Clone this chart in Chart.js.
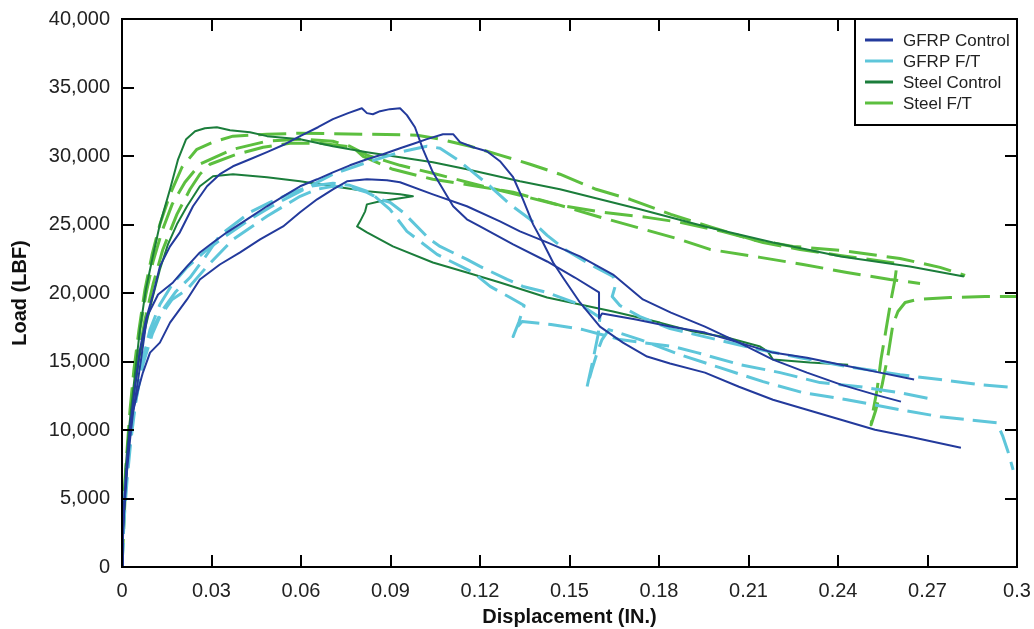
<!DOCTYPE html>
<html>
<head>
<meta charset="utf-8">
<title>Load vs Displacement</title>
<script src="https://cdn.jsdelivr.net/npm/chart.js@4.4.1/dist/chart.umd.min.js"></script>
<style>
  html, body { margin: 0; padding: 0; background: #fff; }
  canvas { display: block; }
</style>
</head>
<body>
<canvas id="loadChart" width="1034" height="629"></canvas>
<script>
// Legend entries (one per test group)
const seriesNames = ['GFRP Control', 'GFRP F/T', 'Steel Control', 'Steel F/T'];

// Displacement (in.) / load (lbf) traces, three specimens per group where tested
const gfrpControlAX = [0, .0003, .0007, .0013, .0020, .0030, .0044, .0060, .0080, .0104, .0127, .0161, .0194, .0238, .0285, .0328, .0372, .0429, .0486, .0546, .0597, .0657, .0707, .0758, .0804, .0821, .0841, .0865, .0898, .0932, .0955, .0982, .1009, .1042, .1076, .1110, .1156, .1200, .1311, .1425, .1518, .1599, .1599, .1609, .1723, .1837, .1954, .2068, .2182, .2296, .2410, .2524, .2655];
const gfrpControlAY = [0, 1970, 4170, 6360, 8560, 10750, 13310, 15870, 18060, 19890, 21940, 23400, 24430, 26330, 27790, 28670, 29250, 29760, 30280, 30860, 31450, 32100, 32690, 33130, 33490, 33130, 33050, 33270, 33420, 33490, 32980, 32100, 30490, 28810, 27570, 26330, 25380, 24860, 23550, 22300, 21130, 20040, 18140, 18500, 18060, 17550, 17110, 16380, 15650, 15280, 14770, 14260, 13680];

const gfrpControlBX = [0, .0003, .0010, .0017, .0027, .0037, .0054, .0070, .0084, .0121, .0171, .0218, .0261, .0305, .0352, .0419, .0486, .0546, .0597, .0654, .0707, .0764, .0821, .0875, .0932, .0982, .1022, .1076, .1110, .1133, .1177, .1223, .1267, .1311, .1344, .1378, .1411, .1445, .1478, .1535, .1602, .1679, .1760, .1837, .1954, .2068, .2182, .2296, .2410, .2524, .2641, .2812];
const gfrpControlBY = [0, 2710, 4900, 7090, 9290, 11260, 13680, 16090, 18280, 19890, 20770, 21940, 22960, 23690, 24430, 25380, 26330, 27130, 27790, 28300, 28810, 29320, 29760, 30130, 30570, 30930, 31230, 31590, 31590, 31010, 30640, 30350, 29620, 28450, 26840, 25010, 23690, 22230, 21130, 19310, 17550, 16380, 15360, 14850, 14190, 13160, 12210, 11480, 10750, 10020, 9510, 8700];

const gfrpControlCX = [0, .0003, .0010, .0020, .0030, .0044, .0054, .0070, .0094, .0127, .0161, .0218, .0261, .0328, .0396, .0463, .0540, .0597, .0654, .0707, .0754, .0821, .0888, .0932, .1042, .1156, .1267, .1334, .1425, .1535, .1646, .1746, .1840, .1954, .2068, .2182, .2296, .2410, .2524, .2611];
const gfrpControlCY = [0, 2710, 5630, 8560, 10750, 11990, 12940, 14190, 15650, 16380, 17840, 19530, 20990, 22080, 22960, 23910, 24860, 25890, 26840, 27570, 28150, 28300, 28230, 28080, 27200, 26330, 25230, 24500, 23690, 22670, 21350, 19530, 18570, 17550, 16380, 15140, 14190, 13310, 12580, 12070];

const gfrpFtAX = [0, .0003, .0010, .0020, .0030, .0047, .0070, .0094, .0127, .0168, .0218, .0278, .0345, .0429, .0513, .0597, .0707, .0821, .0932, .1022, .1066, .1123, .1177, .1234, .1301, .1368, .1425, .1485, .1569, .1646, .1653, .1643, .1669, .1736, .1837, .1937, .2105, .2273, .2430, .2608, .2742, .2876, .3000];
const gfrpFtAY = [0, 2710, 5270, 7820, 10020, 12210, 15140, 17330, 19160, 20620, 21870, 23040, 24130, 25380, 26470, 27420, 28670, 29540, 30280, 30710, 30570, 29760, 28810, 27790, 26470, 25380, 24210, 23180, 22080, 21210, 20480, 19740, 19090, 18280, 17400, 16890, 16020, 15280, 14630, 14040, 13680, 13310, 13090];

const gfrpFtBX = [0, .0007, .0017, .0030, .0047, .0070, .0101, .0127, .0168, .0218, .0285, .0372, .0486, .0597, .0654, .0707, .0764, .0821, .0865, .0898, .0942, .1032, .1066, .1156, .1200, .1291, .1344, .1425, .1535, .1602, .1596, .1579, .1559, .1575, .1596, .1609, .1632, .1736, .1870, .2004, .2149, .2283, .2430, .2608, .2742, .2833, .2933, .2953, .2970, .2987];
const gfrpFtBY = [0, 3440, 6360, 9290, 12210, 14770, 16970, 18280, 19530, 20260, 21940, 23910, 25600, 27060, 27570, 27790, 27720, 27350, 26840, 26620, 25890, 23910, 23400, 22450, 21940, 20990, 20480, 20040, 19160, 18210, 16970, 15140, 13160, 14410, 15870, 16600, 17330, 16600, 15500, 14550, 13530, 12720, 12210, 11480, 10970, 10750, 10530, 9510, 8410, 7090];

const gfrpFtCX = [0, .0007, .0017, .0030, .0050, .0074, .0104, .0137, .0181, .0228, .0278, .0328, .0429, .0496, .0573, .0630, .0707, .0764, .0831, .0898, .0955, .1056, .1089, .1177, .1234, .1301, .1348, .1331, .1311, .1324, .1341, .1438, .1545, .1669, .1847, .1927, .2072, .2206, .2340, .2474, .2608, .2725];
const gfrpFtCY = [0, 4170, 7090, 10020, 12940, 15500, 17480, 18790, 20110, 21130, 22600, 24210, 25890, 26620, 27350, 27790, 28010, 27860, 27350, 26110, 24500, 22820, 22450, 21500, 20480, 19670, 19090, 17920, 16820, 17480, 17920, 17700, 17330, 16600, 16090, 15650, 14770, 14190, 13460, 13160, 12720, 12210];

const steelControlAX = [0, .0003, .0007, .0013, .0023, .0034, .0047, .0060, .0080, .0101, .0127, .0161, .0188, .0215, .0245, .0278, .0318, .0362, .0429, .0486, .0597, .0707, .0821, .0932, .1042, .1156, .1334, .1468, .1602, .1736, .1954, .2182, .2410, .2641, .2822];
const steelControlAY = [0, 2710, 4900, 7460, 10020, 12210, 14770, 17330, 20260, 22450, 25010, 27570, 29760, 31230, 31810, 32030, 32100, 31880, 31740, 31450, 31230, 30710, 30280, 29910, 29540, 29030, 28150, 27570, 26840, 26110, 24860, 23690, 22670, 21940, 21210];

const steelControlBX = [0, .0003, .0010, .0017, .0027, .0040, .0057, .0077, .0101, .0127, .0154, .0184, .0218, .0261, .0305, .0372, .0486, .0597, .0707, .0821, .0932, .0975, .0932, .0865, .0821, .0815, .0798, .0788, .0821, .0908, .1042, .1156, .1267, .1425, .1535, .1646, .1803, .1914, .2028, .2139, .2165, .2182, .2306, .2434];
const steelControlBY = [0, 2710, 5270, 7820, 10020, 12580, 15140, 17330, 19530, 21720, 23550, 25010, 26330, 27790, 28520, 28670, 28450, 28150, 27790, 27420, 27200, 27060, 26910, 26690, 26470, 25960, 25230, 24860, 24430, 23400, 22230, 21500, 20770, 19670, 19160, 18650, 17840, 17190, 16750, 16090, 15720, 15140, 14920, 14770];

const steelFtAX = [0, .0003, .0010, .0017, .0027, .0040, .0057, .0077, .0101, .0127, .0161, .0201, .0251, .0305, .0372, .0486, .0597, .0821, .0989, .1066, .1167, .1267, .1368, .1468, .1589, .1703, .1840, .1978, .2112, .2249, .2407, .2608, .2742, .2826];
const steelFtAY = [0, 3440, 6360, 8560, 11480, 14410, 17330, 20260, 22820, 25010, 27200, 29180, 30490, 31010, 31450, 31590, 31660, 31590, 31520, 31230, 30710, 30060, 29400, 28670, 27570, 26840, 25740, 24790, 23910, 23400, 23110, 22520, 21870, 21280];

const steelFtBX = [0, .0003, .0010, .0020, .0030, .0044, .0060, .0080, .0104, .0134, .0168, .0211, .0261, .0372, .0486, .0597, .0707, .0764, .0821, .0932, .1042, .1210, .1334, .1468, .1612, .1760, .1870, .2011, .2149, .2273, .2407, .2507, .2598, .2591, .2578, .2561, .2544, .2531, .2517, .2511, .2527, .2548, .2568, .2584, .2601, .2625, .2665, .2776, .2893, .3000];
const steelFtBY = [0, 3070, 6000, 8920, 11480, 14410, 17330, 19890, 22300, 24500, 26470, 28080, 29400, 30490, 31080, 31230, 31080, 30710, 30060, 29320, 28740, 27790, 27130, 26400, 25890, 25520, 25160, 24500, 23690, 23180, 22740, 22450, 22160, 20990, 19530, 17330, 15140, 12940, 11330, 10380, 11480, 13310, 15500, 17700, 18650, 19310, 19530, 19670, 19740, 19740];

const steelFtCX = [0, .0007, .0013, .0023, .0037, .0054, .0077, .0104, .0137, .0184, .0228, .0261, .0295, .0385, .0473, .0563, .0664, .0774, .0808, .0908, .1042, .1190, .1311, .1458, .1592, .1726, .1870, .1971, .2139, .2283, .2430, .2574, .2675];
const steelFtCY = [0, 3440, 6360, 9290, 12210, 15140, 18060, 20620, 23180, 25740, 27570, 28670, 29400, 30130, 30640, 30930, 30930, 30640, 29980, 29030, 28300, 27790, 27350, 26470, 25600, 24790, 23910, 23180, 22600, 22080, 21500, 20990, 20700];

// Axis ticks
const xTicks = [0, 0.03, 0.06, 0.09, 0.12, 0.15, 0.18, 0.21, 0.24, 0.27, 0.3];
const yTicks = [0, 5000, 10000, 15000, 20000, 25000, 30000, 35000, 40000];

// line style per group
const groupStyle = [
  { color: '#233a9c', width: 2, dash: [] },
  { color: '#5ec6da', width: 3, dash: [24, 9] },
  { color: '#1b7d3b', width: 2, dash: [] },
  { color: '#5cbf3f', width: 3, dash: [28, 10] }
];

const specimens = [
  [0, gfrpControlAX, gfrpControlAY],
  [0, gfrpControlBX, gfrpControlBY],
  [0, gfrpControlCX, gfrpControlCY],
  [1, gfrpFtAX, gfrpFtAY],
  [1, gfrpFtBX, gfrpFtBY],
  [1, gfrpFtCX, gfrpFtCY],
  [2, steelControlAX, steelControlAY],
  [2, steelControlBX, steelControlBY],
  [3, steelFtAX, steelFtAY],
  [3, steelFtBX, steelFtBY],
  [3, steelFtCX, steelFtCY]
];

const datasets = specimens.map(([g, xs, ys]) => ({
  label: seriesNames[g],
  data: xs.map((x, i) => ({ x: x, y: ys[i] })),
  showLine: true,
  fill: false,
  tension: 0,
  pointRadius: 0,
  borderColor: groupStyle[g].color,
  borderWidth: groupStyle[g].width,
  borderDash: groupStyle[g].dash,
  borderCapStyle: 'butt',
  borderJoinStyle: 'round'
}));

const FONT = 'Liberation Sans, Arial, Helvetica, sans-serif';

// keep the plot box exactly where the layout padding puts it
function fixedScalePadding(scale) {
  scale.paddingLeft = 0;
  scale.paddingRight = 0;
  scale.paddingTop = 0;
  scale.paddingBottom = 0;
}

// black box around the plot with inward tick marks on all four sides
const framePlugin = {
  id: 'frame',
  afterDatasetsDraw(chart) {
    const { ctx, chartArea: a, scales: { x, y } } = chart;
    const len = 12;
    ctx.save();
    ctx.strokeStyle = '#000';
    ctx.lineWidth = 2;
    ctx.beginPath();
    xTicks.forEach(v => {
      const px = Math.round(x.getPixelForValue(v));
      ctx.moveTo(px, a.bottom); ctx.lineTo(px, a.bottom - len);
      ctx.moveTo(px, a.top); ctx.lineTo(px, a.top + len);
    });
    yTicks.forEach(v => {
      const py = Math.round(y.getPixelForValue(v));
      ctx.moveTo(a.left, py); ctx.lineTo(a.left + len, py);
      ctx.moveTo(a.right, py); ctx.lineTo(a.right - len, py);
    });
    ctx.stroke();
    ctx.strokeRect(a.left, a.top, a.right - a.left, a.bottom - a.top);
    ctx.restore();
  }
};

// boxed legend in the upper right corner of the plot
const legendPlugin = {
  id: 'boxLegend',
  afterDraw(chart) {
    const { ctx, chartArea: a } = chart;
    const w = 162, h = 106;
    const left = a.right - w, top = a.top;
    ctx.save();
    ctx.fillStyle = '#fff';
    ctx.fillRect(left, top, w, h);
    ctx.strokeStyle = '#000';
    ctx.lineWidth = 2;
    ctx.strokeRect(left, top, w, h);
    ctx.font = '17px ' + FONT;
    ctx.textBaseline = 'middle';
    ctx.textAlign = 'left';
    seriesNames.forEach((name, i) => {
      const rowY = top + 21 + i * 21;
      ctx.strokeStyle = groupStyle[i].color;
      ctx.lineWidth = 3;
      ctx.beginPath();
      ctx.moveTo(left + 10, rowY);
      ctx.lineTo(left + 38, rowY);
      ctx.stroke();
      ctx.fillStyle = '#222';
      ctx.fillText(name, left + 48, rowY + 1);
    });
    ctx.restore();
  }
};

new Chart(document.getElementById('loadChart'), {
  type: 'scatter',
  data: { datasets: datasets },
  options: {
    responsive: false,
    animation: false,
    layout: { padding: { left: 0, top: 19, right: 17, bottom: 0 } },
    plugins: {
      legend: { display: false },
      tooltip: { enabled: false }
    },
    scales: {
      x: {
        type: 'linear',
        min: 0,
        max: 0.3,
        afterFit(scale) { scale.height = 62; fixedScalePadding(scale); },
        afterBuildTicks(scale) { scale.ticks = xTicks.map(v => ({ value: v })); },
        grid: { display: false, drawTicks: false },
        border: { display: false },
        ticks: {
          autoSkip: false,
          maxRotation: 0,
          padding: 12,
          color: '#222',
          font: { family: FONT, size: 20 },
          callback: v => String(Number(v.toFixed(2)))
        },
        title: {
          display: true,
          text: 'Displacement (IN.)',
          color: '#111',
          font: { family: FONT, size: 20, weight: 'bold', lineHeight: 1.2 },
          padding: { top: 0, bottom: 0 }
        }
      },
      y: {
        type: 'linear',
        min: 0,
        max: 40000,
        afterFit(scale) { scale.width = 122; fixedScalePadding(scale); },
        afterBuildTicks(scale) { scale.ticks = yTicks.map(v => ({ value: v })); },
        grid: { display: false, drawTicks: false },
        border: { display: false },
        ticks: {
          padding: 12,
          color: '#222',
          font: { family: FONT, size: 20 },
          callback: v => v.toLocaleString('en-US')
        },
        title: {
          display: true,
          text: 'Load (LBF)',
          color: '#111',
          font: { family: FONT, size: 20, weight: 'bold', lineHeight: 1.2 },
          padding: { top: 8, bottom: 0 }
        }
      }
    }
  },
  plugins: [framePlugin, legendPlugin]
});
</script>
</body>
</html>
